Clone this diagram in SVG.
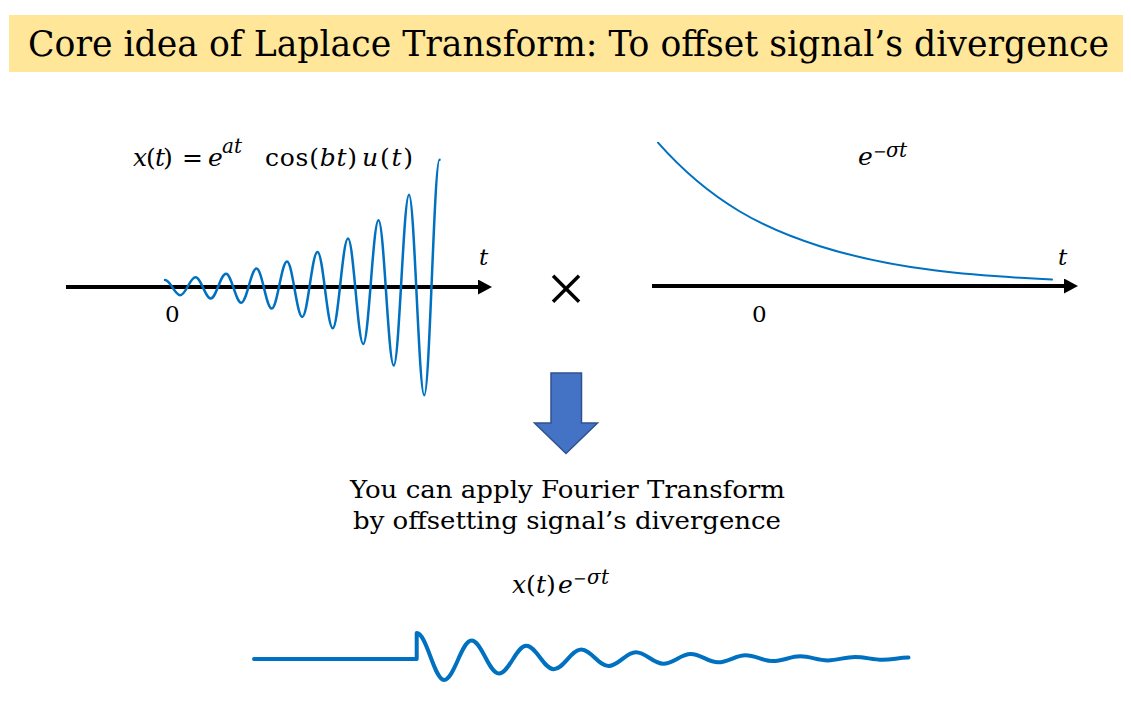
<svg xmlns="http://www.w3.org/2000/svg" width="1131" height="711" viewBox="0 0 1131 711">
<style>
.m{font-family:"DejaVu Serif","Liberation Serif",serif;font-size:25px;fill:#000}
.i{font-style:italic}
.sup{font-size:20px}
.minus{font-size:16px}
.cap{font-family:"DejaVu Serif","Liberation Serif",serif;font-size:24.5px;fill:#000}
.lbl{font-family:"DejaVu Serif","Liberation Serif",serif;font-size:23px;fill:#000}
.axis{stroke:#000;stroke-width:4;fill:none;marker-end:url(#ah)}
.wave{fill:none;stroke:#0070C0;stroke-linejoin:round;stroke-linecap:round}
</style>
<defs>
<marker id="ah" markerUnits="userSpaceOnUse" markerWidth="16" markerHeight="16" refX="2" refY="7.5" orient="auto">
<path d="M0,0 L14,7.5 L0,15 z" fill="#000"/>
</marker>
</defs>
<rect width="1131" height="711" fill="#fff"/>

<g id="title">
<rect x="9" y="15" width="1114" height="57" fill="#FFE699"/>
<text x="28" y="56" font-family="'DejaVu Serif','Liberation Serif',serif" font-stretch="condensed" font-size="35" textLength="1081" lengthAdjust="spacingAndGlyphs">Core idea of Laplace Transform: To offset signal’s divergence</text>
</g>

<g id="left-plot">
<line class="axis" x1="66" y1="287" x2="480" y2="287"/>
<path class="wave" stroke-width="2.5" d="M165,280 C170.54,280 174.71,295.2 180.25,295.2 S189.96,277.3 195.5,277.3 S205.21,298.4 210.75,298.4 S220.46,273.7 226,273.7 S235.71,302.7 241.25,302.7 S250.96,268.6 256.5,268.6 S266.21,308.6 271.75,308.6 S281.46,261.6 287,261.6 S296.71,316.9 302.25,316.9 S311.96,251.9 317.5,251.9 S327.21,328.2 332.75,328.2 S342.46,238.6 348,238.6 S357.71,343.9 363.25,343.9 S372.96,220.2 378.5,220.2 S388.21,365.5 393.75,365.5 S403.46,194.8 409,194.8 S418.71,395.3 424.25,395.3 S433.96,159.8 439.5,159.8"/>
<text class="lbl i" x="479" y="265">t</text>
<text class="lbl" x="165" y="322">0</text>
<g id="formula-x">
<text class="m" y="166"><tspan class="i" x="133">x</tspan><tspan x="146">(</tspan><tspan class="i" x="155">t</tspan><tspan x="163">)</tspan></text>
<text class="m" x="182" y="166">=</text>
<text class="m i" x="208" y="166">e</text>
<text class="m i sup" x="222" y="153">at</text>
<text class="m" x="265" y="166" textLength="92" lengthAdjust="spacing">cos(<tspan class="i">bt</tspan>)</text>
<text class="m" x="362" y="166" textLength="51" lengthAdjust="spacing"><tspan class="i">u</tspan>(<tspan class="i">t</tspan>)</text>
</g>
</g>

<g id="multiply">
<text x="566" y="312" text-anchor="middle" font-family="'Liberation Serif',serif" font-size="70">×</text>
</g>

<g id="right-plot">
<line class="axis" x1="652" y1="286" x2="1066" y2="286"/>
<path class="wave" stroke-width="2" d="M658,142.7 C712,203.8 766,229.2 820,246.2 C897.3,270.6 974.7,275.7 1052,279.6"/>
<text class="lbl i" x="1058" y="265">t</text>
<text class="lbl" x="752" y="322">0</text>
<text class="m i" x="858" y="165">e</text>
<text class="m sup" y="157"><tspan class="minus" x="873">−</tspan><tspan class="i" x="886">σ</tspan><tspan class="i" x="899">t</tspan></text>
</g>

<g id="connectors">
<polygon points="551,373 581.5,373 581.5,423 597.5,423 566,453.5 534.5,423 551,423" fill="#4472C4" stroke="#2F528F" stroke-width="1.5"/>
</g>

<g id="caption">
<text class="cap" x="350" y="498" textLength="435" lengthAdjust="spacingAndGlyphs">You can apply Fourier Transform</text>
<text class="cap" x="353" y="529" textLength="428" lengthAdjust="spacingAndGlyphs">by offsetting signal’s divergence</text>
</g>

<g id="bottom-plot">
<text class="m" y="593"><tspan class="i" x="512">x</tspan><tspan x="526">(</tspan><tspan class="i" x="536">t</tspan><tspan x="546">)</tspan></text>
<text class="m i" x="558" y="593">e</text>
<text class="m sup" y="584"><tspan class="minus" x="573">−</tspan><tspan class="i" x="587">σ</tspan><tspan class="i" x="601">t</tspan></text>
<path class="wave" stroke-width="4" d="M254,659 H416.7 V633 C426.7,633 434.1,679.9 444.1,679.9 S461.5,640.5 471.5,640.5 S488.9,673.6 498.9,673.6 S516.3,645.8 526.3,645.8 S543.7,669.2 553.7,669.2 S571.1,649.5 581.1,649.5 S598.5,666 608.5,666 S625.9,652.2 635.9,652.2 S653.3,663.8 663.3,663.8 S680.7,654 690.7,654 S708.1,662.3 718.1,662.3 S735.5,655.3 745.5,655.3 S762.9,661.1 772.9,661.1 S790.3,656.3 800.3,656.3 S817.7,660.4 827.7,660.4 S845.1,656.9 855.1,656.9 S872.5,659.8 882.5,659.8 S898.5,657.6 908.5,657.6"/>
</g>
</svg>
